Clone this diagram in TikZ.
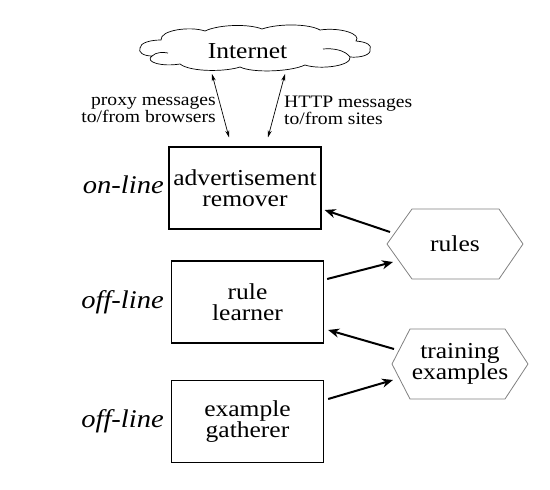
\documentclass[tikz,border=0pt]{standalone}
\usepackage{fontspec}
\setmainfont{Liberation Serif}[FakeStretch=1.12]
\usetikzlibrary{arrows.meta,calc}
\begin{document}
\begin{tikzpicture}[x=1pt,y=-1pt,
  big/.style={font=\fontsize{22.8}{21}\selectfont},
  small/.style={font=\fontsize{17.5}{16}\selectfont},
  box/.style={draw, line width=1.3pt, minimum width=152pt, minimum height=82pt, align=center, inner sep=0pt, big},
  side/.style={anchor=base east, inner sep=0pt, font=\fontsize{25.5}{20}\selectfont\itshape},
  hex/.style={draw=black!50, line width=0.8pt},
  cloudline/.style={draw, line width=0.7pt},
  flow/.style={line width=2pt, -{Stealth[length=11pt,width=9pt]}},
  net/.style={line width=0.7pt, {Stealth[length=7pt,width=4pt]}-{Stealth[length=7pt,width=4pt]}}]
\useasboundingbox (0,0) rectangle (550,490);

% cloud
\draw[cloudline] (140,48)
  .. controls (140,43) and (150,40) .. (161,40)
  .. controls (160,30) and (190,26) .. (205,31)
  .. controls (220,24) and (250,24) .. (262,29)
  .. controls (280,23) and (310,24) .. (320,30)
  .. controls (340,27) and (362,34) .. (356,41)
  .. controls (368,42) and (372,46) .. (370,49)
  .. controls (372,55) and (360,58) .. (350,57)
  .. controls (352,66) and (320,70) .. (305,65)
  .. controls (290,72) and (252,73) .. (240,67)
  .. controls (225,72) and (190,72) .. (180,64)
  .. controls (162,67) and (144,62) .. (152,56)
  .. controls (143,56) and (138,52) .. (140,48) -- cycle;
\draw[cloudline] (152,56) .. controls (156,52) and (163,52) .. (168,53);
\draw[cloudline] (350,57) .. controls (345,50) and (333,48) .. (323,49);
\node[big, anchor=base, inner sep=0pt] (inet) at (247.5,58) {Internet};

% boxes
\node[box] (rem) at (245,188) {advertisement\\remover};
\node[box] (lrn) at (247.5,302) {rule\\learner};
\node[box] (gat) at (247.5,421.5) {example\\gatherer};

% side labels
\node[side] (l1) at (164,193) {on-line};
\node[side] (l2) at (164,308) {off-line};
\node[side] (l3) at (164,427) {off-line};

% message labels
\node[small, align=right, anchor=east, inner sep=0pt] (pm) at (216,110) {proxy messages\\to/from browsers};
\node[small, align=left, anchor=west, inner sep=0pt] (hm) at (284,110) {HTTP messages\\to/from sites};

% hexagons
\node[big, inner sep=0pt] (rules) at (455,244) {rules};
\draw[hex] ($(rules)+(-68,0)$) -- ($(rules)+(-43,-35)$) -- ($(rules)+(44,-35)$) -- ($(rules)+(68,0)$) -- ($(rules)+(44,35)$) -- ($(rules)+(-43,35)$) -- cycle;
\node[big, align=center, inner sep=0pt] (train) at (460,364) {training\\examples};
\draw[hex] ($(train)+(-68,0)$) -- ($(train)+(-50,-35)$) -- ($(train)+(45,-35)$) -- ($(train)+(68,0)$) -- ($(train)+(45,35)$) -- ($(train)+(-50,35)$) -- cycle;

% internet arrows
\coordinate (a1s) at ($(inet.base)+(-35.5,16)$);
\coordinate (a1e) at ($(rem.north)+(-16,-9)$);
\coordinate (a2s) at ($(inet.base)+(37.5,16)$);
\coordinate (a2e) at ($(rem.north)+(23,-9)$);
\draw[net] (a1s) -- (a1e);
\draw[net] (a2s) -- (a2e);

% flow arrows
\draw[flow] ($(rules)+(-65,-12)$) -- ($(rem.east)+(3,22)$);
\draw[flow] ($(lrn.east)+(3,-23)$) -- ($(rules)+(-62,18)$);
\draw[flow] ($(train)+(-66,-15)$) -- ($(lrn.east)+(4,28)$);
\draw[flow] ($(gat.east)+(4,-22.5)$) -- ($(train)+(-67,16)$);
\end{tikzpicture}
\end{document}
